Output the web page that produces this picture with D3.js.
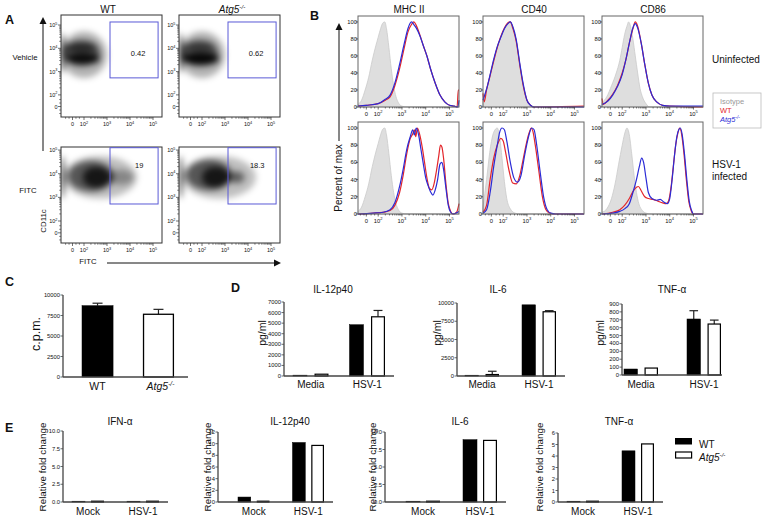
<!DOCTYPE html>
<html><head><meta charset="utf-8">
<script src="https://cdn.jsdelivr.net/npm/d3@7"></script>
<style>body{margin:0;background:#fff}svg{display:block}text{font-family:"Liberation Sans",Arial,Helvetica,sans-serif;fill:#111}</style>
</head><body>
<svg id="fig" width="762" height="519"></svg>
<script>
// ---------------- DATA ----------------
// Panel A (flow density plots; coordinates in log10 display units)
const aColumns = ["WT", "Atg5"];
const aRows = ["Vehicle", "FITC"];
const aGateValues = [["0.42", "0.62"], ["19", "18.3"]];
const logTickValues = [1.5, 2, 3, 4, 5];
const logTickLabels = ["0", "2", "3", "4", "5"];
const aGateX = [3.13, 5.22];
const aGateY = [[2.73, 5.13], [2.72, 5.1]];
// blobs: [centerX, centerY, radiusX, radiusY, density]
const aBlobsVehicleWT = [[2.0, 3.72, 1.0, 1.0, 0.3], [1.9, 3.8, 0.8, 0.55, 0.55], [1.85, 4.05, 0.7, 0.2, 0.5], [1.95, 3.55, 0.75, 0.25, 0.85], [1.08, 3.8, 0.06, 0.85, 1]];
const aBlobsVehicleKO = [[2.0, 3.72, 1.0, 1.0, 0.3], [1.9, 3.8, 0.8, 0.55, 0.55], [1.85, 4.08, 0.7, 0.18, 0.35], [1.95, 3.55, 0.8, 0.28, 0.9], [1.08, 3.8, 0.06, 0.85, 1]];
const aBlobsFitcWT = [[2.7, 3.85, 1.6, 0.9, 0.25], [2.3, 3.9, 1.0, 0.65, 0.55], [2.55, 3.85, 0.6, 0.45, 0.75], [3.6, 3.85, 0.55, 0.32, 0.3], [1.08, 3.85, 0.06, 0.9, 1]];
const aBlobsFitcKO = [[2.75, 3.85, 1.6, 0.9, 0.25], [2.3, 3.95, 1.0, 0.65, 0.55], [2.6, 3.85, 0.6, 0.45, 0.75], [3.5, 3.85, 0.35, 0.25, 0.5], [1.08, 3.85, 0.06, 0.9, 1]];

// Panel B (histograms: [log10 display value, percent of max])
const bMarkers = ["MHC II", "CD40", "CD86"];
const bConditions = ["Uninfected", "HSV-1\ninfected"];
const bPercentTicks = [0, 20, 40, 60, 80, 100];
const mhcUninfIso = [[1.15,3],[1.3,8],[1.45,20],[1.6,35],[1.75,55],[1.9,72],[2.0,82],[2.1,92],[2.2,99],[2.28,100],[2.35,92],[2.45,70],[2.55,45],[2.65,25],[2.75,12],[2.85,5],[3.0,1],[3.2,0],[5.4,0]];
const mhcUninfWT = [[1.15,1],[1.5,2],[2.0,4],[2.3,8],[2.5,12],[2.7,25],[2.9,45],[3.1,70],[3.25,88],[3.4,97],[3.5,100],[3.6,96],[3.75,85],[3.9,72],[4.05,60],[4.2,45],[4.4,28],[4.6,14],[4.8,6],[5.0,2],[5.2,1],[5.32,0],[5.37,20],[5.4,20]];
const mhcUninfKO = [[1.15,1],[1.5,2],[2.0,4],[2.3,9],[2.5,14],[2.7,28],[2.9,50],[3.1,75],[3.25,92],[3.4,100],[3.5,97],[3.6,93],[3.75,84],[3.9,72],[4.05,60],[4.2,45],[4.4,28],[4.6,14],[4.8,6],[5.0,2],[5.2,1],[5.35,0],[5.4,8]];
const cd40UninfIso = [[1.15,10],[1.3,22],[1.45,38],[1.6,55],[1.75,70],[1.9,82],[2.05,92],[2.2,99],[2.3,100],[2.4,94],[2.55,78],[2.7,50],[2.85,25],[3.0,8],[3.15,2],[3.3,0],[5.4,0]];
const cd40UninfWT = [[1.15,16],[1.2,6],[1.3,20],[1.45,37],[1.6,54],[1.75,70],[1.9,83],[2.05,93],[2.2,99],[2.3,100],[2.4,93],[2.55,77],[2.7,49],[2.85,24],[3.0,8],[3.15,2],[3.3,0],[5.4,1]];
const cd40UninfKO = [[1.15,8],[1.3,21],[1.45,38],[1.6,56],[1.75,71],[1.9,82],[2.05,92],[2.2,98],[2.3,100],[2.4,95],[2.55,79],[2.7,51],[2.85,26],[3.0,8],[3.15,2],[3.3,0],[5.4,0]];
const cd86UninfIso = [[1.15,5],[1.35,12],[1.55,25],[1.75,40],[1.9,55],[2.0,70],[2.1,85],[2.2,95],[2.27,100],[2.35,95],[2.45,80],[2.55,60],[2.65,40],[2.75,22],[2.85,12],[3.0,4],[3.15,0],[5.4,0]];
const cd86UninfWT = [[1.15,10],[1.2,3],[1.4,8],[1.6,15],[1.8,25],[2.0,40],[2.15,55],[2.3,75],[2.45,92],[2.55,100],[2.65,95],[2.8,75],[2.95,50],[3.1,28],[3.25,14],[3.45,6],[3.7,2],[4.0,1],[5.4,0]];
const cd86UninfKO = [[1.15,3],[1.4,7],[1.6,14],[1.8,24],[2.0,38],[2.15,55],[2.3,75],[2.45,93],[2.55,98],[2.65,93],[2.8,75],[2.95,50],[3.1,28],[3.25,14],[3.45,6],[3.7,2],[4.0,1],[5.4,1]];
const mhcInfIso = mhcUninfIso;
const mhcInfWT = [[1.15,0],[1.8,1],[2.2,2],[2.5,4],[2.7,10],[2.9,25],[3.05,45],[3.2,70],[3.35,88],[3.45,93],[3.52,98],[3.58,90],[3.65,100],[3.75,92],[3.85,78],[3.95,60],[4.05,42],[4.15,30],[4.25,28],[4.35,35],[4.45,50],[4.55,68],[4.62,80],[4.68,78],[4.75,65],[4.85,35],[4.95,12],[5.05,3],[5.15,0],[5.3,2],[5.4,12]];
const mhcInfKO = [[1.15,0],[1.8,1],[2.2,2],[2.5,5],[2.7,13],[2.9,32],[3.05,52],[3.2,75],[3.35,90],[3.45,98],[3.52,92],[3.6,100],[3.7,92],[3.8,75],[3.9,58],[4.0,42],[4.1,33],[4.2,26],[4.3,22],[4.4,28],[4.5,40],[4.6,58],[4.68,60],[4.75,52],[4.85,30],[4.95,10],[5.05,2],[5.15,0],[5.4,3]];
const cd40InfIso = [[1.15,8],[1.3,40],[1.45,75],[1.6,95],[1.75,100],[1.85,90],[1.95,65],[2.05,38],[2.15,18],[2.3,6],[2.5,1],[2.7,0],[5.4,0]];
const cd40InfWT = [[1.15,2],[1.3,10],[1.45,40],[1.6,65],[1.75,80],[1.9,88],[2.0,85],[2.1,72],[2.25,50],[2.4,36],[2.55,35],[2.7,45],[2.85,65],[3.0,85],[3.1,95],[3.18,100],[3.25,96],[3.35,80],[3.5,50],[3.65,20],[3.8,5],[3.95,1],[4.2,0],[5.4,0]];
const cd40InfKO = [[1.15,1],[1.3,5],[1.45,25],[1.6,55],[1.75,80],[1.85,95],[1.95,100],[2.05,98],[2.15,85],[2.3,60],[2.45,42],[2.6,37],[2.75,45],[2.9,68],[3.05,88],[3.2,100],[3.3,98],[3.4,82],[3.55,50],[3.7,20],[3.85,5],[4.0,1],[4.2,0],[5.4,0]];
const cd86InfIso = [[1.15,2],[1.35,6],[1.55,18],[1.7,35],[1.85,58],[2.0,80],[2.1,93],[2.2,100],[2.3,92],[2.4,70],[2.5,45],[2.6,25],[2.7,12],[2.85,4],[3.0,1],[3.2,0],[5.4,0]];
const cd86InfWT = [[1.15,0],[1.6,2],[1.9,5],[2.1,10],[2.3,18],[2.45,26],[2.6,31],[2.68,32],[2.8,27],[2.95,20],[3.1,18],[3.3,17],[3.5,15],[3.7,13],[3.85,12],[3.95,15],[4.05,30],[4.15,55],[4.25,80],[4.35,95],[4.42,100],[4.5,93],[4.6,70],[4.7,40],[4.8,15],[4.9,4],[5.0,0],[5.4,0]];
const cd86InfKO = [[1.15,0],[1.6,1],[1.9,3],[2.1,6],[2.3,12],[2.45,25],[2.6,40],[2.72,55],[2.82,65],[2.9,60],[3.0,42],[3.1,25],[3.25,18],[3.45,16],[3.6,17],[3.75,14],[3.9,12],[4.0,18],[4.1,40],[4.2,68],[4.3,90],[4.38,98],[4.45,100],[4.52,93],[4.62,70],[4.72,40],[4.82,15],[4.92,4],[5.0,0],[5.4,0]];

// Panel C
const cGroups = ["WT", "Atg5"];
const cMean = [8700, 7650];
const cErr = [300, 600];
const cTicks = [0, 2500, 5000, 7500, 10000];

// Panel D (pg/ml)
const dCytokines = ["IL-12p40", "IL-6", "TNF-α"];
const dGroups = ["Media", "HSV-1"];
const dWT = [[80, 4850], [30, 9750], [76, 710]];
const dKO = [[170, 5600], [200, 8800], [88, 646]];
const dErrWT = [[0, 0], [0, 0], [0, 105]];
const dErrKO = [[0, 600], [450, 150], [0, 50]];
const dTicks = [[0,1000,2000,3000,4000,5000,6000,7000], [0,2500,5000,7500,10000], [0,100,200,300,400,500,600,700,800,900]];

// Panel E (relative fold change)
const eGenes = ["IFN-α", "IL-12p40", "IL-6", "TNF-α"];
const eGroups = ["Mock", "HSV-1"];
const eWT = [[0.03, 0.06], [0.85, 10.2], [0.02, 8.9], [0.02, 4.45]];
const eKO = [[0.03, 0.1], [0.04, 9.7], [0.1, 8.8], [0.05, 5.05]];
const eTicks = [[0,2.5,5,7.5,10], [0,2,4,6,8,10,12], [0,2.5,5,7.5,10], [0,1,2,3,4,5,6]];
const eTickFormats = [".1f", "d", ".1f", "d"];

// ---------------- DRAWING ----------------
const svg = d3.select("#fig");
const defs = svg.append("defs");
defs.append("filter").attr("id", "blurA").attr("x", "-50%").attr("y", "-50%").attr("width", "200%").attr("height", "200%")
  .append("feGaussianBlur").attr("stdDeviation", 3);

function txt(x, y, s, size, opts = {}) {
  const t = svg.append("text").attr("x", x).attr("y", y).attr("font-size", size)
    .attr("text-anchor", opts.anchor || "start");
  if (opts.bold) t.attr("font-weight", "bold");
  if (opts.italic) t.attr("font-style", "italic");
  if (opts.fill) t.style("fill", opts.fill);
  if (s !== null) t.text(s);
  return t;
}
function atg5(t, size) {
  t.append("tspan").attr("font-style", "italic").text("Atg5");
  t.append("tspan").attr("font-style", "italic").attr("font-size", size * 0.62).attr("dy", -size * 0.42).text("-/-");
  return t;
}
function rotText(x, y, s, size) {
  return svg.append("text").attr("transform", `translate(${x},${y}) rotate(-90)`)
    .attr("text-anchor", "middle").attr("dy", "0.35em").attr("font-size", size).text(s);
}
function powLabel(g, x, y, exp, size, anchor) {
  const t = g.append("text").attr("x", x).attr("y", y).attr("font-size", size).attr("text-anchor", anchor);
  if (exp === "0") { t.text("0"); return t; }
  t.append("tspan").text("10");
  t.append("tspan").attr("font-size", size * 0.7).attr("dy", -size * 0.45).text(exp);
  return t;
}
function arrowUp(x, yTop, yBot) {
  svg.append("line").attr("x1", x).attr("x2", x).attr("y1", yTop + 5).attr("y2", yBot).attr("stroke", "#111").attr("stroke-width", 1);
  svg.append("path").attr("d", `M${x - 3.5},${yTop + 7}L${x},${yTop}L${x + 3.5},${yTop + 7}Z`).attr("fill", "#111");
}
const minorLog = [];
[2, 3, 4].forEach(n => { for (let k = 2; k <= 9; k++) minorLog.push(n + Math.log10(k)); });

// ---- Panel A ----
txt(5, 24, "A", 12.5, { bold: true });
txt(108, 13, "WT", 10, { anchor: "middle" });
atg5(txt(232, 13, null, 10, { anchor: "middle" }), 10);
txt(25, 60, "Vehicle", 7.8, { anchor: "middle" });
txt(28, 193, "FITC", 7.8, { anchor: "middle" });
rotText(43, 221, "CD11c", 7.8);
txt(88, 264, "FITC", 7.8, { anchor: "middle" });
arrowUp(43, 17, 151);
svg.append("line").attr("x1", 107).attr("x2", 275).attr("y1", 263).attr("y2", 263).attr("stroke", "#111");
svg.append("path").attr("d", "M274,259.5L281,263L274,266.5Z").attr("fill", "#111");

const aXDomain = [1.0, 5.39];
const aColX = [61, 179];
const aRowBox = [{ y: 15, h: 102, dom: [1.05, 5.43] }, { y: 147, h: 96, dom: [1.07, 5.13] }];
const aBlobs = [[aBlobsVehicleWT, aBlobsVehicleKO], [aBlobsFitcWT, aBlobsFitcKO]];
aRowBox.forEach((rb, ri) => {
  aColX.forEach((cx0, ci) => {
    const w = 101;
    const x = d3.scaleLinear().domain(aXDomain).range([cx0, cx0 + w]);
    const y = d3.scaleLinear().domain(rb.dom).range([rb.y + rb.h, rb.y]);
    const id = `clipA${ri}${ci}`;
    defs.append("clipPath").attr("id", id).append("rect").attr("x", cx0).attr("y", rb.y).attr("width", w).attr("height", rb.h);
    const g = svg.append("g");
    const dg = g.append("g").attr("clip-path", `url(#${id})`).append("g").attr("filter", "url(#blurA)");
    dg.selectAll("ellipse").data(aBlobs[ri][ci]).join("ellipse")
      .attr("cx", d => x(d[0])).attr("cy", d => y(d[1]))
      .attr("rx", d => x(d[0] + d[2]) - x(d[0])).attr("ry", d => y(d[1]) - y(d[1] + d[3]))
      .attr("fill", "#000").attr("fill-opacity", d => d[4]);
    g.append("rect").attr("x", cx0).attr("y", rb.y).attr("width", w).attr("height", rb.h)
      .attr("fill", "none").attr("stroke", "#333").attr("stroke-width", 1);
    // gate
    g.append("rect").attr("x", x(aGateX[0])).attr("y", y(aGateY[ri][1]))
      .attr("width", x(aGateX[1]) - x(aGateX[0])).attr("height", y(aGateY[ri][0]) - y(aGateY[ri][1]))
      .attr("fill", "none").attr("stroke", "#5a5ad6").attr("stroke-width", 1);
    const gx = ri === 0 ? x(4.35) : x(4.4);
    const gy = ri === 0 ? y(3.8) + 3 : y(4.37) + 3;
    g.append("text").attr("x", gx).attr("y", gy).attr("font-size", 7.5).attr("text-anchor", "middle").text(aGateValues[ri][ci]);
    // ticks
    const yb = rb.y + rb.h;
    logTickValues.forEach((v, i) => {
      g.append("line").attr("x1", x(v)).attr("x2", x(v)).attr("y1", yb).attr("y2", yb + 3).attr("stroke", "#333").attr("stroke-width", 0.7);
      powLabel(g, x(v), yb + 9, logTickLabels[i], 5.5, "middle");
      g.append("line").attr("x1", cx0).attr("x2", cx0 - 3).attr("y1", y(v)).attr("y2", y(v)).attr("stroke", "#333").attr("stroke-width", 0.7);
      powLabel(g, cx0 - 3.5, y(v) + 2, logTickLabels[i], 5.5, "end");
    });
    minorLog.concat([1.2, 1.35, 1.65, 1.8]).forEach(v => {
      g.append("line").attr("x1", x(v)).attr("x2", x(v)).attr("y1", yb).attr("y2", yb + 1.8).attr("stroke", "#333").attr("stroke-width", 0.6);
      g.append("line").attr("x1", cx0).attr("x2", cx0 - 1.8).attr("y1", y(v)).attr("y2", y(v)).attr("stroke", "#333").attr("stroke-width", 0.6);
    });
  });
});

// ---- Panel B ----
txt(310, 20, "B", 12.5, { bold: true });
const bColX = [358, 483, 602];
const bRow = [{ y: 16, h: 91 }, { y: 122, h: 92 }];
const bXDomain = [1.15, 5.4];
const bYMax = 107;
const bHists = [
  [[mhcUninfIso, mhcUninfWT, mhcUninfKO], [cd40UninfIso, cd40UninfWT, cd40UninfKO], [cd86UninfIso, cd86UninfWT, cd86UninfKO]],
  [[mhcInfIso, mhcInfWT, mhcInfKO], [cd40InfIso, cd40InfWT, cd40InfKO], [cd86InfIso, cd86InfWT, cd86InfKO]]
];
bMarkers.forEach((m, i) => txt(bColX[i] + 51, 13, m, 10, { anchor: "middle" }));
arrowUp(339, 23, 141);
rotText(338, 178, "Percent of max", 10);
txt(712, 63, bConditions[0], 10);
const infLines = bConditions[1].split("\n");
txt(712, 168, infLines[0], 10);
txt(712, 180, infLines[1], 10);
// legend
svg.append("rect").attr("x", 713).attr("y", 93).attr("width", 48).attr("height", 35).attr("fill", "none").attr("stroke", "#bbb").attr("stroke-width", 0.8);
txt(720, 104, "Isotype", 7.5, { fill: "#9a9a9a" });
txt(720, 113, "WT", 7.5, { fill: "#e3262b" });
atg5(txt(720, 122, null, 7.5, { fill: "#2b2bd6" }), 7.5);

bRow.forEach((rb, ri) => {
  bColX.forEach((x0, ci) => {
    const w = 101;
    const x = d3.scaleLinear().domain(bXDomain).range([x0, x0 + w]);
    const y = d3.scaleLinear().domain([0, bYMax]).range([rb.y + rb.h, rb.y]);
    const g = svg.append("g");
    const [iso, wt, ko] = bHists[ri][ci];
    const area = d3.area().x(d => x(d[0])).y0(y(0)).y1(d => y(d[1])).curve(d3.curveMonotoneX);
    const line = d3.line().x(d => x(d[0])).y(d => y(d[1])).curve(d3.curveMonotoneX);
    g.append("path").datum(iso).attr("d", area).attr("fill", "#dedede").attr("stroke", "#cacaca").attr("stroke-width", 0.8);
    g.append("path").datum(wt).attr("d", line).attr("fill", "none").attr("stroke", "#e3262b").attr("stroke-width", 1.2);
    g.append("path").datum(ko).attr("d", line).attr("fill", "none").attr("stroke", "#2b2bd6").attr("stroke-width", 1.2);
    g.append("rect").attr("x", x0).attr("y", rb.y).attr("width", w).attr("height", rb.h)
      .attr("fill", "none").attr("stroke", "#666").attr("stroke-width", 1);
    const yb = rb.y + rb.h;
    logTickValues.forEach((v, i) => {
      g.append("line").attr("x1", x(v)).attr("x2", x(v)).attr("y1", yb).attr("y2", yb + 2.5).attr("stroke", "#333").attr("stroke-width", 0.7);
      powLabel(g, x(v), yb + 9, logTickLabels[i], 5.8, "middle");
    });
    minorLog.concat([1.25, 1.4, 1.7, 1.85]).forEach(v => {
      g.append("line").attr("x1", x(v)).attr("x2", x(v)).attr("y1", yb).attr("y2", yb + 1.5).attr("stroke", "#333").attr("stroke-width", 0.6);
    });
    bPercentTicks.forEach(v => {
      g.append("line").attr("x1", x0).attr("x2", x0 - 2.5).attr("y1", y(v)).attr("y2", y(v)).attr("stroke", "#333").attr("stroke-width", 0.7);
      g.append("text").attr("x", x0 - 1).attr("y", y(v) + 2).attr("font-size", 5.8).attr("text-anchor", "end").text(v);
    });
  });
});

// ---- Bar chart helper ----
function drawAxes(g, x0, x1, y, ticks, fmt) {
  g.append("line").attr("x1", x0).attr("x2", x0).attr("y1", y(0)).attr("y2", y(ticks[ticks.length - 1])).attr("stroke", "#444").attr("stroke-width", 1.3);
  g.append("line").attr("x1", x0).attr("x2", x1).attr("y1", y(0)).attr("y2", y(0)).attr("stroke", "#444").attr("stroke-width", 1.3);
  const f = d3.format(fmt);
  ticks.forEach(v => {
    g.append("line").attr("x1", x0).attr("x2", x0 - 2.5).attr("y1", y(v)).attr("y2", y(v)).attr("stroke", "#444").attr("stroke-width", 0.8);
    g.append("text").attr("x", x0 - 3).attr("y", y(v) + 2).attr("font-size", 5.8).attr("text-anchor", "end").text(f(v));
  });
}
function errBar(g, cx, yTop, yErr, cap) {
  if (Math.abs(yTop - yErr) < 0.5) return;
  g.append("line").attr("x1", cx).attr("x2", cx).attr("y1", yTop).attr("y2", yErr).attr("stroke", "#222").attr("stroke-width", 1.2);
  g.append("line").attr("x1", cx - cap).attr("x2", cx + cap).attr("y1", yErr).attr("y2", yErr).attr("stroke", "#222").attr("stroke-width", 1.2);
}
function groupedBars(cfg) {
  const g = svg.append("g");
  const y = d3.scaleLinear().domain([0, cfg.ticks[cfg.ticks.length - 1]]).range([cfg.yB, cfg.yT]);
  const L = (cfg.x1 - cfg.padR) - (cfg.x0 + cfg.padL);
  const n = cfg.groups.length;
  const outer = d3.scaleBand().domain(cfg.groups).range([cfg.x0 + cfg.padL, cfg.x1 - cfg.padR])
    .paddingInner(n * cfg.gap / (L + cfg.gap)).paddingOuter(0);
  const bw = outer.bandwidth();
  const inner = d3.scaleBand().domain(["WT", "KO"]).range([0, bw]).paddingInner(2 * cfg.inner / (bw + cfg.inner)).paddingOuter(0);
  cfg.groups.forEach((grp, gi) => {
    [["WT", cfg.wt[gi], cfg.errWT ? cfg.errWT[gi] : 0], ["KO", cfg.ko[gi], cfg.errKO ? cfg.errKO[gi] : 0]].forEach(([s, v, e]) => {
      const bx = outer(grp) + inner(s);
      const w = inner.bandwidth();
      errBar(g, bx + w / 2, y(v), y(v + e), w * 0.32);
      const top = y(v), h = Math.max(y(0) - top, 0.8);
      g.append("rect").attr("x", bx + (s === "KO" ? 0.6 : 0)).attr("y", y(0) - h).attr("width", w - (s === "KO" ? 1.2 : 0)).attr("height", h)
        .attr("fill", s === "WT" ? "#000" : "#fff").attr("stroke", "#000").attr("stroke-width", s === "WT" ? 0.5 : 1.2);
    });
    g.append("text").attr("x", outer(grp) + bw / 2).attr("y", cfg.labelY).attr("font-size", 10).attr("text-anchor", "middle").text(grp);
  });
  drawAxes(g, cfg.x0, cfg.x1, y, cfg.ticks, cfg.fmt);
  g.append("text").attr("x", cfg.titleX).attr("y", cfg.titleY).attr("font-size", 10).attr("text-anchor", "middle").text(cfg.title);
  rotText(cfg.ylabX, cfg.ylabY, cfg.ylab, cfg.ylabSize);
}

// ---- Panel C ----
txt(5, 286, "C", 12.5, { bold: true });
{
  const g = svg.append("g");
  const y = d3.scaleLinear().domain([0, 10000]).range([377, 295]);
  const x = d3.scaleBand().domain(cGroups).range([82, 174]).paddingInner(0.49);
  cGroups.forEach((c, i) => {
    const w = x.bandwidth();
    errBar(g, x(c) + w / 2, y(cMean[i]), y(cMean[i] + cErr[i]), 5);
    g.append("rect").attr("x", x(c) + (i ? 0.6 : 0)).attr("y", y(cMean[i])).attr("width", w - (i ? 1.2 : 0)).attr("height", y(0) - y(cMean[i]))
      .attr("fill", i ? "#fff" : "#000").attr("stroke", "#000").attr("stroke-width", i ? 1.3 : 0.5);
  });
  drawAxes(g, 63, 188, y, cTicks, "d");
  txt(x("WT") + x.bandwidth() / 2, 390, "WT", 10.5, { anchor: "middle" });
  atg5(txt(x("Atg5") + x.bandwidth() / 2 + 2, 390, null, 10.5, { anchor: "middle" }), 10.5);
  rotText(36, 334, "c.p.m.", 12.5);
}

// ---- Panel D ----
txt(231, 292, "D", 12.5, { bold: true });
const dLayout = [
  { x0: 284, x1: 394, yT: 302, yB: 376, padL: 9, padR: 9, gap: 21, inner: 7.5, titleX: 333, ylabX: 262 },
  { x0: 457, x1: 565, yT: 303, yB: 376, padL: 8, padR: 9, gap: 23, inner: 7, titleX: 498, ylabX: 437 },
  { x0: 622, x1: 722, yT: 304, yB: 375, padL: 2, padR: 1, gap: 29, inner: 7, titleX: 672, ylabX: 600 }
];
dCytokines.forEach((c, i) => {
  groupedBars(Object.assign({}, dLayout[i], {
    groups: dGroups, wt: dWT[i], ko: dKO[i], errWT: dErrWT[i], errKO: dErrKO[i],
    ticks: dTicks[i], fmt: "d", title: c, titleY: 293, labelY: 388, ylab: "pg/ml", ylabY: 333, ylabSize: 10.5
  }));
});

// ---- Panel E ----
txt(5, 432, "E", 12.5, { bold: true });
const eLayout = [
  { x0: 63, x1: 168, yT: 431, yB: 502, padL: 9, padR: 9, titleX: 120, ylabX: 43 },
  { x0: 218, x1: 333, yT: 432, yB: 502, padL: 20, padR: 9, titleX: 290, ylabX: 208 },
  { x0: 385, x1: 506, yT: 432, yB: 502, padL: 21, padR: 9, titleX: 460, ylabX: 373 },
  { x0: 558, x1: 663, yT: 433, yB: 502, padL: 9, padR: 9, titleX: 619, ylabX: 540 }
];
eGenes.forEach((gname, i) => {
  groupedBars(Object.assign({}, eLayout[i], {
    gap: 23, inner: 6, groups: eGroups, wt: eWT[i], ko: eKO[i],
    ticks: eTicks[i], fmt: eTickFormats[i], title: gname, titleY: 425, labelY: 515,
    ylab: "Relative fold change", ylabY: 467, ylabSize: 9.8
  }));
});
// legend E
svg.append("rect").attr("x", 675).attr("y", 438).attr("width", 17).attr("height", 6.5).attr("fill", "#000");
svg.append("rect").attr("x", 675.6).attr("y", 452).attr("width", 16).attr("height", 6).attr("fill", "#fff").attr("stroke", "#000").attr("stroke-width", 1.2);
txt(699, 448, "WT", 10);
atg5(txt(699, 461, null, 10), 10);
</script>
</body></html>
